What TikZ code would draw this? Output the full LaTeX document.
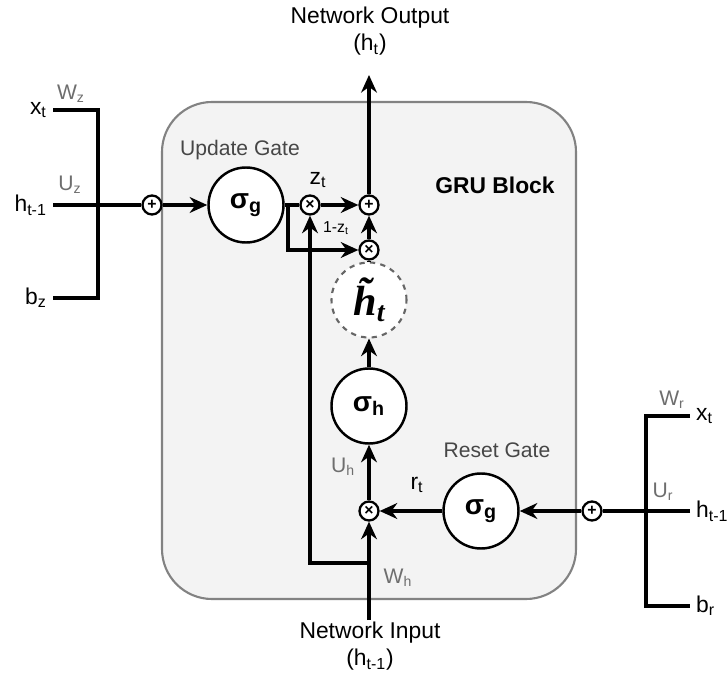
\documentclass[tikz,border=0pt]{standalone}
\usepackage{amsmath,amssymb}
\usepackage{fontspec}
\setmainfont{Liberation Sans}
\newfontfamily\htfont{Liberation Serif}
\usepackage{tikz}
\usetikzlibrary{arrows.meta,positioning}
\definecolor{blockfill}{RGB}{243,243,243}
\definecolor{blockline}{RGB}{130,130,130}
\definecolor{labgray}{RGB}{70,70,70}
\definecolor{wgray}{RGB}{110,110,110}

\begin{document}
\begin{tikzpicture}[
  every node/.style={font=\fontsize{12}{14}\selectfont, text=labgray},
  gate/.style={draw, circle, line width=1.4pt, minimum size=1.5cm, fill=white,
               text=black, font=\fontsize{16}{18}\selectfont\bfseries},
  cand/.style={draw=black!60, circle, dashed, line width=1.2pt, minimum size=1.5cm,
               fill=white, text=black, font=\fontsize{24}{26}\selectfont\htfont\bfseries\itshape},
  op/.style={draw, circle, line width=1.3pt, minimum size=0.38cm, inner sep=0pt,
             fill=white, text=black, font=\fontsize{9}{9}\selectfont\bfseries},
  wt/.style={font=\fontsize{12}{13}\selectfont, text=wgray},
  io/.style={font=\fontsize{13}{15}\selectfont, text=black},
  ln/.style={line width=2pt},
  arr/.style={ln, -{Stealth[length=10pt,width=9pt]}}
]
\useasboundingbox (0,0) rectangle (14.54,-13.54);
% GRU block
\draw[blockline, fill=blockfill, line width=1.2pt, rounded corners=1cm]
  (3.24,-2.04) rectangle (11.52,-11.98);
\node[font=\fontsize{13}{15}\selectfont\bfseries, text=black] (blk) at (9.9,-3.7) {GRU Block};

% gates and operators
\node[op]   (addz) at (3.04,-4.1)  {+};
\node[gate] (sigz) at (4.92,-4.1)  {σ\textsubscript{g}};
\node[op]   (mulz) at (6.2,-4.1)   {×};
\node[op]   (addh) at (7.38,-4.1)  {+};
\node[op]   (mulh) at (7.38,-5.0)  {×};
\node[cand] (htil) at (7.38,-6.0)  {\~{h}\raisebox{-0.3ex}{\fontsize{16}{16}\selectfont t}};
\node[gate] (sigh) at (7.38,-8.12) {σ\textsubscript{h}};
\node[op]   (mulr) at (7.38,-10.22){×};
\node[gate] (sigr) at (9.62,-10.22){σ\textsubscript{g}};
\node[op]   (addr) at (11.84,-10.22){+};

\node (upd) at (4.8,-3.0)  {Update Gate};
\node (rst) at (9.94,-9.0) {Reset Gate};
\node[io] (zt)  at (6.36,-3.6) {z\textsubscript{t}};
\node[font=\fontsize{9}{10}\selectfont, text=black] (omz) at (6.72,-4.56) {1-z\textsubscript{t}};
\node[io] (rt)  at (8.34,-9.7) {r\textsubscript{t}};
\node[wt] (uh)  at (6.86,-9.34) {U\textsubscript{h}};
\node[wt] (wh)  at (7.96,-11.56){W\textsubscript{h}};

% left inputs (update gate)
\coordinate (lx0) at (1.06,-2.2);  \coordinate (lx1) at (1.96,-2.2);
\coordinate (lh0) at (1.06,-4.1);
\coordinate (lb0) at (1.06,-5.96); \coordinate (lb1) at (1.96,-5.96);
\node[io, anchor=east] (lxt) at (lx0) {x\textsubscript{t}};
\node[io, anchor=east] (lht) at (lh0) {h\textsubscript{t-1}};
\node[io, anchor=east] (lbt) at (lb0) {b\textsubscript{z}};
\node[wt] (wz) at (1.42,-1.88) {W\textsubscript{z}};
\node[wt] (uz) at (1.4,-3.7)   {U\textsubscript{z}};
\draw[ln] (lx0) -- (lx1) -- (lb1) -- (lb0);
\draw[ln] (lh0) -- (addz);
\draw[arr] (addz) -- (sigz);

% right inputs (reset gate)
\coordinate (rx0) at (13.8,-8.32);  \coordinate (rx1) at (12.92,-8.32);
\coordinate (rh0) at (13.8,-10.22);
\coordinate (rb0) at (13.8,-12.12); \coordinate (rb1) at (12.92,-12.12);
\node[io, anchor=west] (rxt) at (rx0) {x\textsubscript{t}};
\node[io, anchor=west] (rht) at (rh0) {h\textsubscript{t-1}};
\node[io, anchor=west] (rbt) at (rb0) {b\textsubscript{r}};
\node[wt] (wr) at (13.44,-8.0) {W\textsubscript{r}};
\node[wt] (ur) at (13.26,-9.84) {U\textsubscript{r}};
\draw[ln] (rx0) -- (rx1) -- (rb1) -- (rb0);
\draw[ln] (rh0) -- (addr);
\draw[arr] (addr) -- (sigr);
\draw[arr] (sigr) -- (mulr);

% network input / output
\node[io] (nin)  at (7.4,-12.66) {Network Input};
\node[io] (ninh) at (7.4,-13.2)  {(h\textsubscript{t-1})};
\node[io] (nout) at (7.4,-0.36)  {Network Output};
\node[io] (nouh) at (7.4,-0.9)   {(h\textsubscript{t})};
\coordinate (inp) at (7.38,-12.4);
\coordinate (fb)  at (7.38,-11.26);
\coordinate (outp) at (7.38,-1.5);
\draw[arr] (inp) -- (mulr);
\draw[arr] (fb) -| (mulz);
\draw[arr] (mulr) -- (sigh);
\draw[arr] (sigh) -- (htil);
\draw[ln]  (htil) -- (mulh);
\draw[arr] (mulh) -- (addh);
\draw[arr] (addh) -- (outp);

% update path
\coordinate (zb) at (5.76,-4.1);
\draw[ln]  (sigz) -- (mulz);
\draw[arr] (mulz) -- (addh);
\draw[arr] (zb) |- (mulh);
\end{tikzpicture}
\end{document}
